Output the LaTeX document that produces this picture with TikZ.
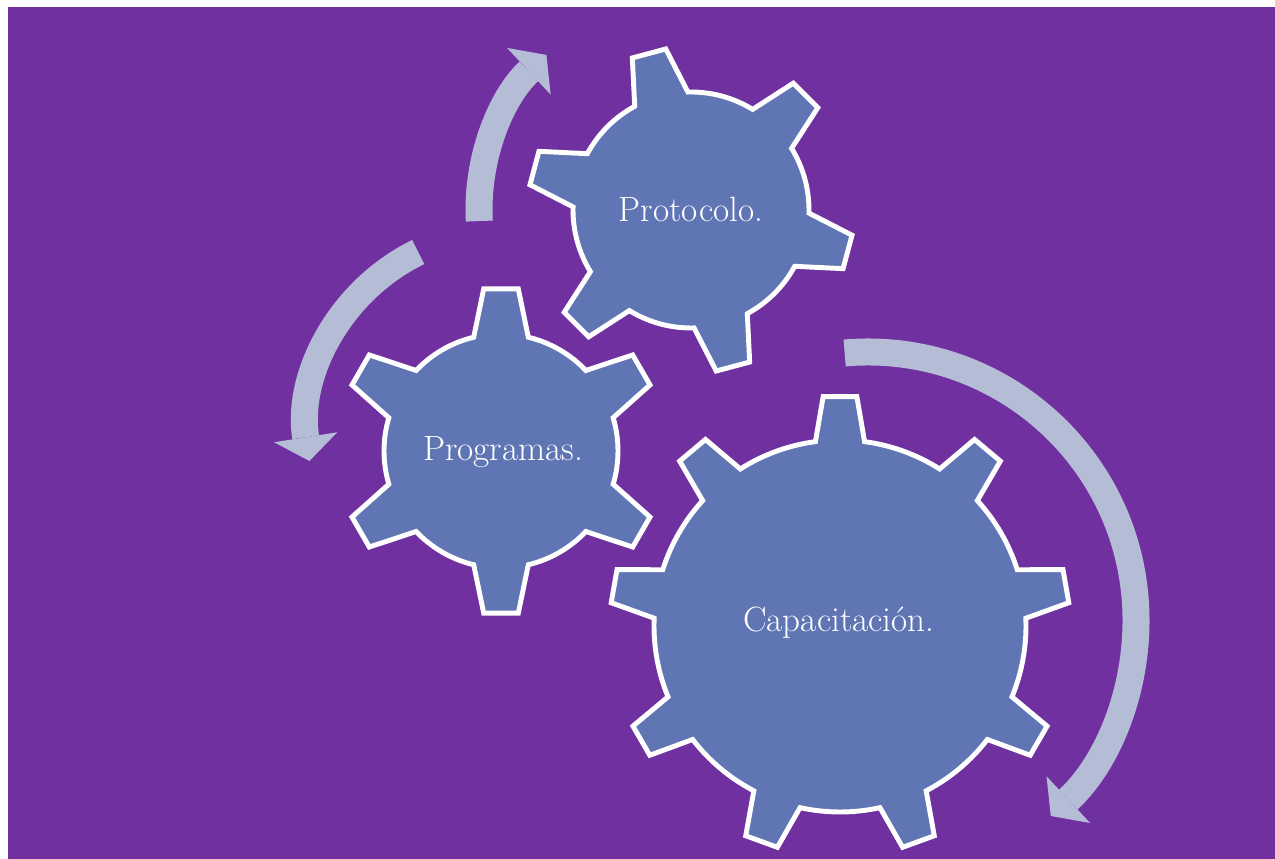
\documentclass[tikz,border=0pt]{standalone}
\usetikzlibrary{arrows.meta}
\definecolor{bgpurple}{RGB}{112,48,160}
\definecolor{gearblue}{RGB}{96,118,180}
\definecolor{arrowgray}{RGB}{180,188,214}
\tikzset{
  gearbody/.style={fill=gearblue, draw=white, line width=2.8pt},
  gearlabel/.style={text=white, font=\fontsize{20}{24}\selectfont, anchor=base},
  cyclearrow/.style={draw=arrowgray, line width=0.54cm,
    -{Triangle[width=1.28cm,length=0.48cm,line width=0pt]}}
}
\begin{document}
\begin{tikzpicture}[x=0.02cm, y=0.02cm]
  \useasboundingbox (0,0) rectangle (1275,859);
  \fill[bgpurple] (8,0) rectangle (1275,852);
  % turning arrows
  \draw[cyclearrow, shift={(505,429)}] (116:198) arc[start angle=116, end angle=189, radius=198];
  \draw[cyclearrow, shift={(691,649)}] (183:212) arc[start angle=183, end angle=133, radius=212];
  \draw[cyclearrow, shift={(868,239)}] (95:268) arc[start angle=95, end angle=-47, radius=268];
  % gears
  \begin{scope}[shift={(501,408)}]
    \draw[gearbody] (16.5:117) \foreach \k in {0,...,5} {
      -- (30+60*\k-6.1:163) -- (30+60*\k+6.1:163) -- (30+60*\k+13.5:117)
      arc[start angle=30+60*\k+13.5, end angle=90+60*\k-13.5, radius=117]} -- cycle;
  \end{scope}
  \begin{scope}[shift={(691,649)}]
    \draw[gearbody] (31.5:118) \foreach \k in {0,...,5} {
      -- (45+60*\k-6.1:163) -- (45+60*\k+6.1:163) -- (45+60*\k+13.5:118)
      arc[start angle=45+60*\k+13.5, end angle=105+60*\k-13.5, radius=118]} -- cycle;
  \end{scope}
  \begin{scope}[shift={(840,233)}]
    \draw[gearbody] (2.4:186) \foreach \k in {0,...,8} {
      -- (10+40*\k-4.2:230) -- (10+40*\k+4.2:230) -- (10+40*\k+7.6:186)
      arc[start angle=10+40*\k+7.6, end angle=50+40*\k-7.6, radius=186]} -- cycle;
  \end{scope}
  % labels
  \node[gearlabel] (programas) at (503,398) {Programas.};
  \node[gearlabel] (protocolo) at (691,637) {Protocolo.};
  \node[gearlabel] (capacitacion) at (839,227) {Capacitación.};
\end{tikzpicture}
\end{document}
